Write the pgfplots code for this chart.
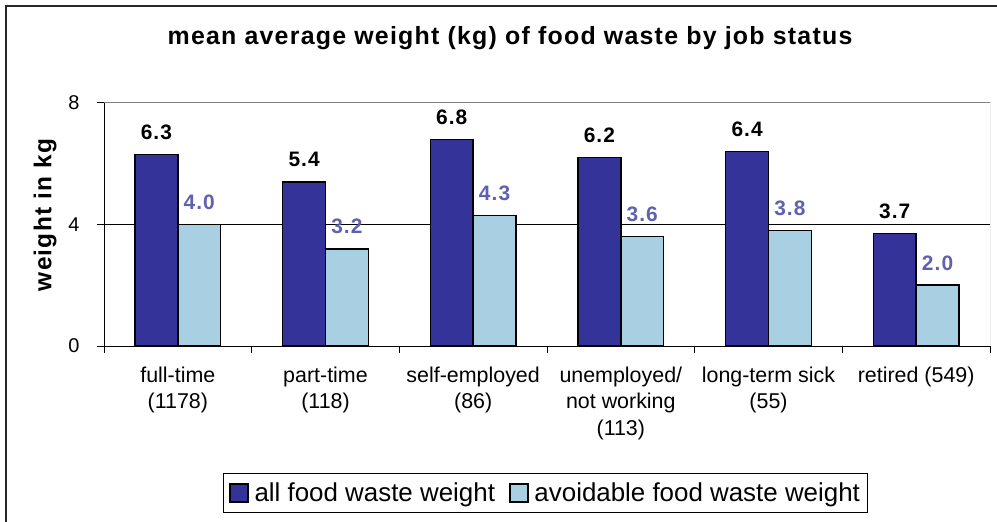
\documentclass[border=0pt]{standalone}
\usepackage{pgfplots}
\pgfplotsset{compat=1.18}
\usepackage{pgfplotstable}
\usepackage{fontspec}
\setmainfont{Liberation Sans}
\newfontfamily\titlefont[LetterSpace=5]{Liberation Sans}
\definecolor{darkb}{RGB}{51,51,153}
\definecolor{lightb}{RGB}{168,208,226}
\definecolor{lablue}{RGB}{96,96,176}
\pgfplotsset{sqleg/.style={legend image code/.code={\draw[##1, line width=1.5bp] (0bp,-9bp) rectangle (18bp,9bp); \path (22bp,0bp);}}}
\pgfplotstableread{
x a b la lb
0 6.3 4.0 6.3 4.0
1 5.4 3.2 5.4 3.2
2 6.8 4.3 6.8 4.3
3 6.2 3.6 6.2 3.6
4 6.4 3.8 6.4 3.8
5 3.7 2.0 3.7 2.0
}\data
\begin{document}
\begin{tikzpicture}
\path[use as bounding box] (0,0) rectangle (997bp,522bp);
\draw[line width=2bp, black!85] (6bp,0) -- (6bp,516bp) -- (997bp,516bp);
\node[font=\titlefont\bfseries\fontsize{25}{29}\selectfont, anchor=base] at (510bp,477bp) {mean average weight (kg) of food waste by job status};
\node[rotate=90, font=\titlefont\bfseries\fontsize{24.5}{28}\selectfont] at (45bp,307bp) {weight in kg};
\begin{axis}[
 at={(104bp,176bp)}, anchor=south west, scale only axis, width=886bp, height=243bp,
 xmin=-0.5, xmax=5.5, ymin=0, ymax=8,
 axis x line*=bottom, axis y line*=left, axis line style={-, black, line width=1bp},
 ytick={0,4,8}, yticklabel style={font=\fontsize{20}{22}\selectfont, xshift=-14bp},
 /pgf/number format/assume math mode=true,
 xtick={-0.5,0.5,1.5,2.5,3.5,4.5,5.5}, x tick label as interval,
 xticklabels={{full-time\\(1178)},{part-time\\(118)},{self-employed\\(86)},{unemployed/\\not working\\(113)},{long-term sick\\(55)},{retired (549)}},
 xticklabel style={font=\fontsize{21.5}{27}\selectfont, align=center, yshift=-10bp},
 tick align=outside, major tick length=7bp, tick style={black, line width=1bp},
 extra y ticks={4}, extra y tick labels={}, extra y tick style={ymajorgrids=true, major grid style={black, line width=1bp}, major tick length=0pt},
 ybar, bar width=0.29,
 point meta=explicit symbolic, nodes near coords,
 legend style={at={(0.4983,-0.605)}, anchor=center, legend columns=2, draw=black, line width=1bp,
   font=\fontsize{26}{30}\selectfont, inner xsep=6bp, inner ysep=7bp,
   /tikz/every even column/.append style={column sep=12bp}},
]
\draw[gray, line width=1bp] (rel axis cs:0,1) -- (rel axis cs:1,1) -- (rel axis cs:1,0);
\addplot[fill=darkb, draw=black, line width=1.5bp, bar shift=-0.145, sqleg,
  every node near coord/.append style={text=black, font=\titlefont\bfseries\fontsize{21}{24}\selectfont, anchor=base, yshift=15bp}]
  table[x=x, y=a, meta=la]{\data};
\addplot[fill=lightb, draw=black, line width=1.5bp, bar shift=0.145, sqleg,
  every node near coord/.append style={text=lablue, font=\titlefont\bfseries\fontsize{21}{24}\selectfont, anchor=base, yshift=15bp}]
  table[x=x, y=b, meta=lb]{\data};
\legend{all food waste weight, avoidable food waste weight}
\end{axis}
\end{tikzpicture}
\end{document}
